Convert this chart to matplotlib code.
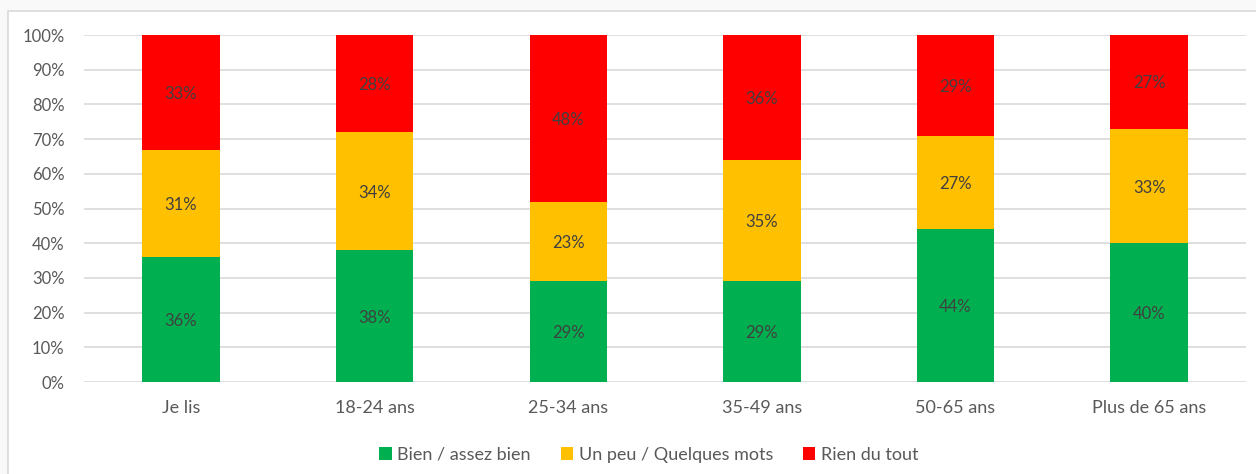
import matplotlib.pyplot as plt
from matplotlib.ticker import PercentFormatter
from matplotlib.patches import Rectangle
import matplotlib as mpl
import numpy as np

mpl.rcParams['font.family'] = 'Lato'

groups = ['Je lis', '18-24 ans', '25-34 ans', '35-49 ans', '50-65 ans', 'Plus de 65 ans']
bien = [36, 38, 29, 29, 44, 40]
un_peu = [31, 34, 23, 35, 27, 33]
rien = [33, 28, 48, 36, 29, 27]

series = [
    ('Bien / assez bien', bien, '#00b050'),
    ('Un peu / Quelques mots', un_peu, '#ffc000'),
    ('Rien du tout', rien, '#ff0000'),
]

fig = plt.figure(figsize=(12.56, 4.74), dpi=100, facecolor='#f9f9f9')
# chart area frame
fig.add_artist(Rectangle((8 / 1256, -0.05), 1.1, 1.05 - 11 / 474, transform=fig.transFigure,
                         facecolor='white', edgecolor='#d9d9d9', linewidth=1.2, zorder=0))

ax = fig.add_axes([0.0670, 0.194, 0.925, 0.732])
ax.set_facecolor('none')

x = np.arange(len(groups))
bottom = np.zeros(len(groups))
for name, vals, color in series:
    vals = np.array(vals, dtype=float)
    ax.bar(x, vals, 0.4, bottom=bottom, color=color, label=name, zorder=3)
    for xi, b, v in zip(x, bottom, vals):
        ax.text(xi, b + v / 2, f'{int(v)}%', ha='center', va='center_baseline',
                fontsize=12, color='#404040', zorder=4)
    bottom += vals

ax.set_xlim(-0.5, len(groups) - 0.5)
ax.set_ylim(0, 100)
ax.set_yticks(range(0, 101, 10))
ax.yaxis.set_major_formatter(PercentFormatter(100, decimals=0))
ax.set_xticks(x)
ax.set_xticklabels(groups)
ax.grid(axis='y', color='#d9d9d9', linewidth=1.2, zorder=0)
for spine in ax.spines.values():
    spine.set_visible(False)
ax.tick_params(axis='both', length=0, labelcolor='#595959')
ax.tick_params(axis='x', pad=13, labelsize=13)
ax.tick_params(axis='y', pad=14, labelsize=12)

ax.legend(loc='upper center', bbox_to_anchor=(0.486, -0.14), ncol=3, frameon=False,
          fontsize=13, labelcolor='#595959', handlelength=0.7, handleheight=0.7,
          handletextpad=0.3, columnspacing=1.65)

plt.savefig('out.png', dpi=100, facecolor=fig.get_facecolor())
plt.close()
